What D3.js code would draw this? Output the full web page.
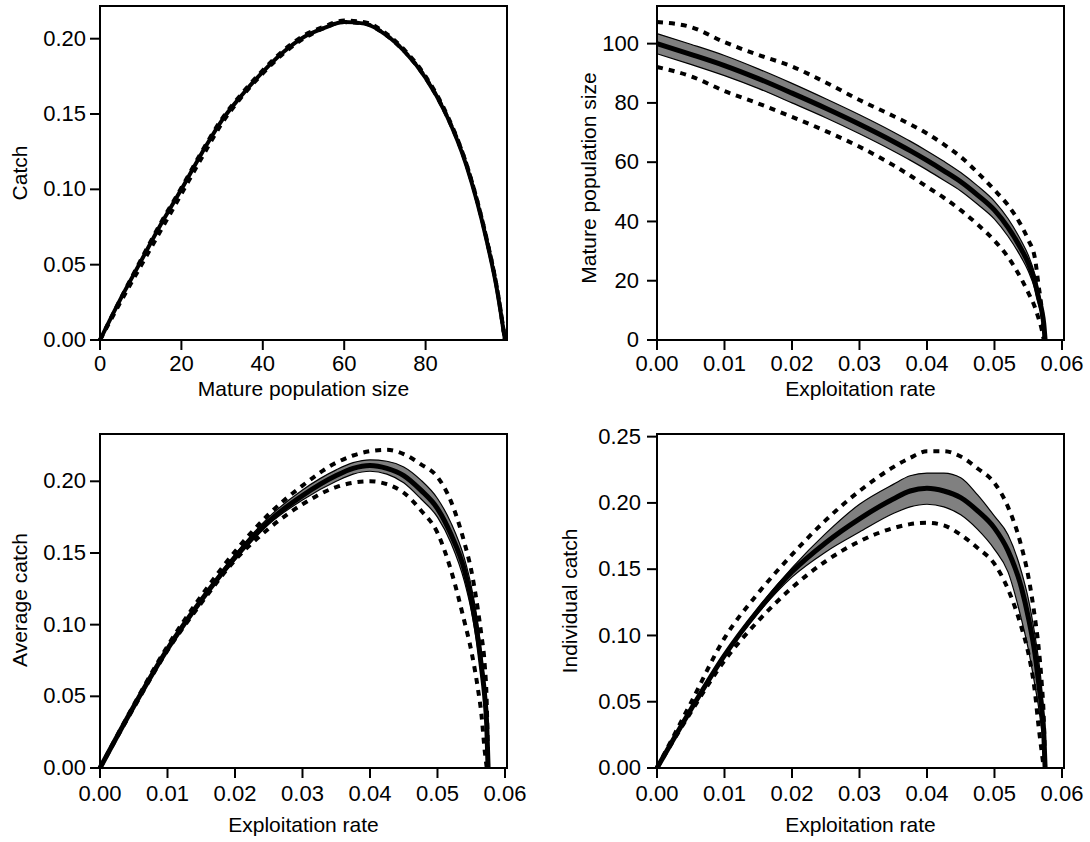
<!DOCTYPE html>
<html>
<head>
<meta charset="utf-8">
<script src="https://cdn.jsdelivr.net/npm/d3@7"></script>
<style>
  body { margin: 0; background: #fff; }
  svg { display: block; }
</style>
</head>
<body>
<svg id="chart" width="1090" height="842"></svg>
<script>
// ---- top left: catch against mature population size
const popSize = [0, 5, 10, 15, 20, 25, 30, 35, 40, 45, 50, 55, 60, 65, 70, 75, 80, 85, 90, 95, 97.5, 99.5];
const catchMed = [0, 0.027, 0.052, 0.077, 0.100, 0.124, 0.146, 0.163, 0.178, 0.191, 0.201, 0.207, 0.211, 0.210, 0.203, 0.191, 0.174, 0.150, 0.116, 0.066, 0.034, 0];
const catchLo  = [0, 0.025, 0.049, 0.073, 0.097, 0.121, 0.144, 0.162, 0.177, 0.190, 0.200, 0.207, 0.211, 0.210, 0.203, 0.191, 0.174, 0.150, 0.117, 0.067, 0.035, 0];
const catchHi  = [0, 0.027, 0.053, 0.078, 0.101, 0.125, 0.147, 0.164, 0.179, 0.192, 0.202, 0.208, 0.212, 0.211, 0.204, 0.192, 0.175, 0.151, 0.117, 0.067, 0.035, 0];

// ---- exploitation rate grid shared by the other three panels
const rate = [0, 0.005, 0.01, 0.015, 0.02, 0.025, 0.03, 0.035, 0.0375, 0.04, 0.0425, 0.045, 0.0475, 0.05, 0.052, 0.054, 0.055, 0.056, 0.0565, 0.057, 0.0573, 0.0575];

// top right: mature population size
const popMed    = [100, 96.4, 92.6, 88.2, 83.3, 78.2, 72.8, 67.0, 63.9, 60.6, 57.1, 53.4, 48.9, 43.8, 38.0, 30.5, 26.0, 19.5, 14.5, 10.0, 5.5, 0];
const popHi     = [103.4, 99.8, 96.0, 91.5, 86.6, 81.4, 76.0, 70.2, 67.1, 63.8, 60.3, 56.5, 52.0, 46.8, 41.0, 33.3, 28.7, 22.0, 16.8, 12.0, 7.1, 0];
const popLo     = [96.6, 93.0, 89.2, 84.9, 80.0, 75.0, 69.6, 63.8, 60.7, 57.4, 53.9, 50.3, 45.8, 40.8, 35.0, 27.7, 23.3, 17.0, 12.2, 8.0, 3.9, 0];
const popDashHi = [107.3, 105.6, 100.5, 96.2, 92.3, 86.9, 81.0, 75.6, 72.8, 69.7, 66.0, 61.8, 56.5, 50.6, 45.5, 38.5, 33.8, 27.5, 19.0, 10.5, 3.0, 0];
const popDashLo = [92.1, 89.0, 84.0, 79.8, 75.3, 70.5, 65.2, 59.0, 55.5, 51.7, 48.0, 43.8, 39.0, 33.5, 28.0, 20.5, 16.0, 11.0, 7.5, 3.5, 0, null];

// bottom left: average catch
const avgMed    = [0, 0.043, 0.083, 0.117, 0.147, 0.172, 0.190, 0.204, 0.209, 0.211, 0.209, 0.204, 0.194, 0.181, 0.163, 0.138, 0.118, 0.090, 0.071, 0.050, 0.030, 0];
const avgHi     = [0, 0.043, 0.084, 0.118, 0.149, 0.175, 0.194, 0.208, 0.213, 0.215, 0.214, 0.210, 0.201, 0.188, 0.171, 0.146, 0.127, 0.100, 0.080, 0.058, 0.036, 0];
const avgLo     = [0, 0.043, 0.082, 0.116, 0.145, 0.170, 0.187, 0.200, 0.205, 0.207, 0.205, 0.199, 0.188, 0.175, 0.157, 0.130, 0.110, 0.082, 0.064, 0.044, 0.025, 0];
const avgDashHi = [0, 0.044, 0.085, 0.120, 0.151, 0.177, 0.197, 0.213, 0.218, 0.221, 0.222, 0.219, 0.212, 0.203, 0.186, 0.157, 0.138, 0.110, 0.093, 0.072, 0.045, 0];
const avgDashLo = [0, 0.042, 0.082, 0.115, 0.145, 0.167, 0.184, 0.196, 0.199, 0.200, 0.198, 0.192, 0.180, 0.164, 0.138, 0.102, 0.082, 0.055, 0.038, 0.012, 0, null];

// bottom right: individual catch
const indMed    = [0, 0.044, 0.085, 0.119, 0.148, 0.170, 0.188, 0.203, 0.209, 0.211, 0.209, 0.204, 0.194, 0.181, 0.164, 0.136, 0.114, 0.086, 0.066, 0.045, 0.027, 0];
const indHi     = [0, 0.044, 0.086, 0.121, 0.151, 0.177, 0.199, 0.214, 0.2205, 0.2225, 0.2225, 0.219, 0.206, 0.190, 0.176, 0.148, 0.128, 0.100, 0.083, 0.060, 0.036, 0];
const indLo     = [0, 0.044, 0.084, 0.117, 0.144, 0.163, 0.178, 0.192, 0.197, 0.199, 0.197, 0.191, 0.180, 0.165, 0.148, 0.112, 0.090, 0.062, 0.047, 0.028, 0.014, 0];
const indDashHi = [0, 0.049, 0.098, 0.132, 0.161, 0.187, 0.209, 0.227, 0.234, 0.239, 0.239, 0.235, 0.226, 0.215, 0.197, 0.167, 0.145, 0.113, 0.093, 0.064, 0.038, 0];
const indDashLo = [0, 0.042, 0.081, 0.111, 0.136, 0.156, 0.171, 0.181, 0.184, 0.185, 0.183, 0.176, 0.166, 0.154, 0.135, 0.106, 0.087, 0.057, 0.033, 0.012, 0, null];

// tick values
const popTicks   = [0, 20, 40, 60, 80];
const catchTicks = [0, 0.05, 0.10, 0.15, 0.20];
const sizeTicks  = [0, 20, 40, 60, 80, 100];
const rateTicks  = [0, 0.01, 0.02, 0.03, 0.04, 0.05, 0.06];
const indTicks   = [0, 0.05, 0.10, 0.15, 0.20, 0.25];

const FONT = "'Liberation Sans', Arial, Helvetica, sans-serif";
const svg = d3.select("#chart");

function drawPanel(p) {
    const x = d3.scaleLinear().domain(p.xDomain).range([p.left, p.right]);
    const y = d3.scaleLinear().domain(p.yDomain).range([p.bottom, p.top]);
    const g = svg.append("g");

    const line = d3.line()
        .defined(d => d[1] != null)
        .x(d => x(d[0]))
        .y(d => y(d[1]))
        .curve(d3.curveMonotoneX);
    const pts = (ys) => p.xs.map((v, i) => [v, ys[i]]);

    if (p.lo && p.hi) {
        const area = d3.area()
            .x(d => x(d.x))
            .y0(d => y(d.lo))
            .y1(d => y(d.hi))
            .curve(d3.curveMonotoneX);
        const bandData = p.xs.map((v, i) => ({ x: v, lo: p.lo[i], hi: p.hi[i] }));
        g.append("path").attr("d", area(bandData)).attr("fill", "#808080").attr("stroke", "none");
        [p.lo, p.hi].forEach(s => {
            g.append("path").attr("d", line(pts(s)))
                .attr("fill", "none").attr("stroke", "#000").attr("stroke-width", 1.2);
        });
    }

    g.append("path").attr("d", line(pts(p.med)))
        .attr("fill", "none").attr("stroke", "#000")
        .attr("stroke-width", p.medWidth).attr("stroke-linejoin", "round");

    p.dashed.forEach(s => {
        g.append("path").attr("d", line(pts(s)))
            .attr("fill", "none").attr("stroke", "#000")
            .attr("stroke-width", 4).attr("stroke-dasharray", "6,6");
    });

    // frame
    g.append("rect")
        .attr("x", p.left).attr("y", p.top)
        .attr("width", p.right - p.left).attr("height", p.bottom - p.top)
        .attr("fill", "none").attr("stroke", "#000").attr("stroke-width", 2);

    const styleAxis = a => {
        a.select(".domain").remove();
        a.selectAll("line").attr("stroke", "#000").attr("stroke-width", 2);
        a.selectAll("text").attr("fill", "#000");
        a.attr("font-size", 22).attr("font-family", FONT);
    };

    g.append("g")
        .attr("transform", `translate(0,${p.bottom})`)
        .call(d3.axisBottom(x).tickValues(p.xTicks).tickFormat(p.xFormat)
            .tickSize(10).tickPadding(p.xPad).offset(0))
        .call(styleAxis);

    g.append("g")
        .attr("transform", `translate(${p.left},0)`)
        .call(d3.axisLeft(y).tickValues(p.yTicks).tickFormat(p.yFormat)
            .tickSize(10).tickPadding(p.yPad).offset(0))
        .call(styleAxis);

    g.append("text")
        .attr("x", (p.left + p.right) / 2)
        .attr("y", p.xTitleY)
        .attr("text-anchor", "middle")
        .attr("font-family", FONT).attr("font-size", 21)
        .text(p.xTitle);

    g.append("text")
        .attr("transform", `translate(${p.yTitleX},${p.yTitleMid}) rotate(-90)`)
        .attr("text-anchor", "middle")
        .attr("font-family", FONT).attr("font-size", 21)
        .text(p.yTitle);
}

const f2 = d3.format(".2f");
const f0 = d3.format("d");

drawPanel({
    left: 100, right: 507, top: 6, bottom: 340,
    xDomain: [0, 100], yDomain: [0, 0.2217],
    xs: popSize, med: catchMed, dashed: [catchLo, catchHi], medWidth: 4,
    xTicks: popTicks, xFormat: f0, yTicks: catchTicks, yFormat: f2,
    xPad: 5, yPad: 4,
    xTitle: "Mature population size", xTitleY: 396,
    yTitle: "Catch", yTitleX: 27, yTitleMid: 173
});

drawPanel({
    left: 657, right: 1064, top: 6, bottom: 340,
    xDomain: [0, 0.0603], yDomain: [0, 112.7],
    xs: rate, med: popMed, lo: popLo, hi: popHi, dashed: [popDashLo, popDashHi], medWidth: 5,
    xTicks: rateTicks, xFormat: f2, yTicks: sizeTicks, yFormat: f0,
    xPad: 5, yPad: 8,
    xTitle: "Exploitation rate", xTitleY: 396,
    yTitle: "Mature population size", yTitleX: 596, yTitleMid: 178
});

drawPanel({
    left: 100, right: 507, top: 434, bottom: 768,
    xDomain: [0, 0.0603], yDomain: [0, 0.233],
    xs: rate, med: avgMed, lo: avgLo, hi: avgHi, dashed: [avgDashLo, avgDashHi], medWidth: 5,
    xTicks: rateTicks, xFormat: f2, yTicks: catchTicks, yFormat: f2,
    xPad: 7, yPad: 4,
    xTitle: "Exploitation rate", xTitleY: 832,
    yTitle: "Average catch", yTitleX: 27, yTitleMid: 600
});

drawPanel({
    left: 657, right: 1064, top: 434, bottom: 768,
    xDomain: [0, 0.0603], yDomain: [0, 0.252],
    xs: rate, med: indMed, lo: indLo, hi: indHi, dashed: [indDashLo, indDashHi], medWidth: 5,
    xTicks: rateTicks, xFormat: f2, yTicks: indTicks, yFormat: f2,
    xPad: 7, yPad: 6,
    xTitle: "Exploitation rate", xTitleY: 832,
    yTitle: "Individual catch", yTitleX: 577, yTitleMid: 601
});
</script>
</body>
</html>
